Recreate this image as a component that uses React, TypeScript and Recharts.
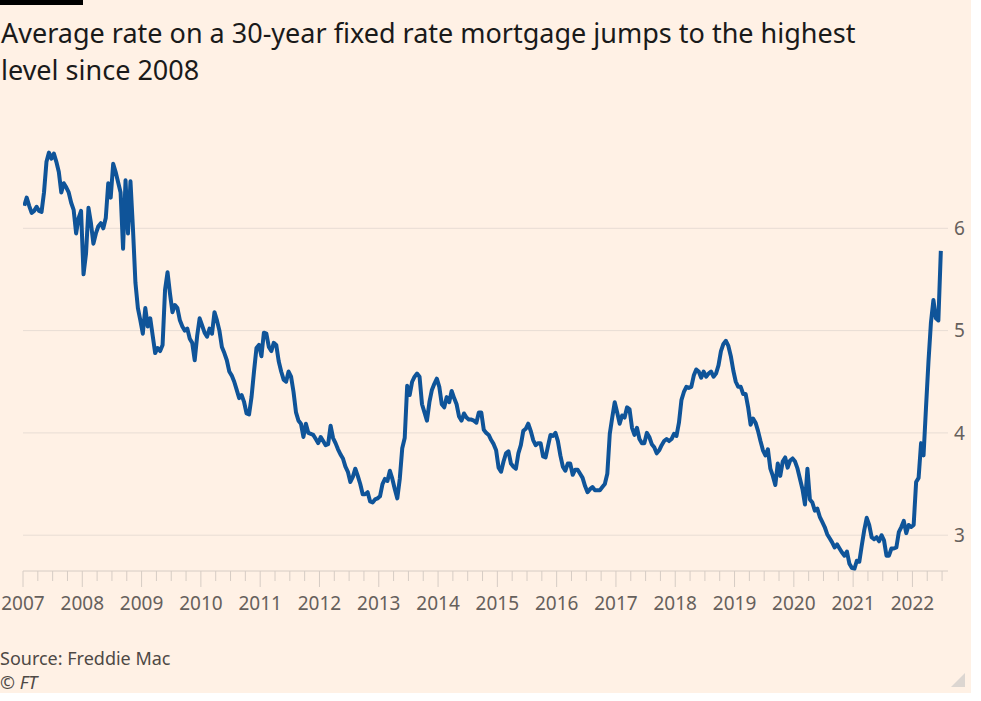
import React from "react";
import { LineChart, Line, XAxis, YAxis, ReferenceLine } from "recharts";

// Semi-monthly average 30-year fixed mortgage rate (%)
const rate2007 = [6.22, 6.30, 6.22, 6.15, 6.17, 6.21, 6.17, 6.16, 6.35, 6.65, 6.74, 6.68, 6.73, 6.65, 6.55, 6.35, 6.44, 6.40, 6.35, 6.25, 6.18, 5.95, 6.10, 6.17];
const rate2008 = [5.55, 5.75, 6.20, 6.05, 5.85, 5.95, 6.02, 6.05, 6.00, 6.10, 6.44, 6.30, 6.63, 6.55, 6.45, 6.35, 5.80, 6.47, 5.95, 6.46, 6.00, 5.47, 5.22, 5.10];
const rate2009 = [4.97, 5.22, 5.04, 5.12, 4.95, 4.78, 4.83, 4.80, 4.86, 5.40, 5.57, 5.36, 5.18, 5.25, 5.22, 5.10, 5.04, 5.00, 5.02, 4.92, 4.88, 4.71, 4.95, 5.12];
const rate2010 = [5.05, 4.98, 4.94, 5.02, 4.97, 5.18, 5.10, 5.00, 4.84, 4.78, 4.71, 4.60, 4.56, 4.50, 4.42, 4.34, 4.37, 4.30, 4.19, 4.18, 4.35, 4.60, 4.83, 4.86];
const rate2011 = [4.75, 4.98, 4.97, 4.84, 4.80, 4.88, 4.86, 4.70, 4.60, 4.52, 4.50, 4.60, 4.55, 4.40, 4.20, 4.12, 4.09, 3.96, 4.09, 4.00, 3.99, 3.98, 3.94, 3.90];
const rate2012 = [3.96, 3.92, 3.88, 3.89, 4.07, 3.95, 3.90, 3.84, 3.79, 3.75, 3.67, 3.62, 3.52, 3.57, 3.65, 3.58, 3.50, 3.40, 3.40, 3.42, 3.33, 3.32, 3.35, 3.36];
const rate2013 = [3.38, 3.50, 3.55, 3.53, 3.63, 3.55, 3.45, 3.36, 3.55, 3.85, 3.95, 4.46, 4.37, 4.50, 4.55, 4.58, 4.55, 4.28, 4.20, 4.12, 4.30, 4.42, 4.48, 4.53];
const rate2014 = [4.45, 4.28, 4.25, 4.35, 4.30, 4.41, 4.34, 4.28, 4.16, 4.12, 4.19, 4.15, 4.13, 4.13, 4.12, 4.10, 4.20, 4.20, 4.03, 4.00, 3.98, 3.93, 3.89, 3.83];
const rate2015 = [3.66, 3.62, 3.72, 3.80, 3.82, 3.70, 3.67, 3.65, 3.80, 3.88, 4.02, 4.04, 4.09, 4.02, 3.93, 3.88, 3.90, 3.90, 3.77, 3.76, 3.87, 3.98, 3.97, 4.00];
const rate2016 = [3.92, 3.78, 3.67, 3.63, 3.70, 3.70, 3.59, 3.64, 3.64, 3.60, 3.56, 3.48, 3.42, 3.45, 3.47, 3.44, 3.44, 3.44, 3.47, 3.50, 3.60, 3.99, 4.15, 4.30];
const rate2017 = [4.20, 4.09, 4.17, 4.15, 4.25, 4.23, 4.05, 3.98, 4.05, 3.94, 3.90, 3.90, 4.00, 3.96, 3.89, 3.86, 3.80, 3.83, 3.88, 3.92, 3.94, 3.92, 3.94, 3.99];
const rate2018 = [3.97, 4.10, 4.32, 4.40, 4.45, 4.44, 4.45, 4.56, 4.62, 4.60, 4.54, 4.60, 4.55, 4.58, 4.60, 4.55, 4.58, 4.66, 4.80, 4.87, 4.90, 4.85, 4.75, 4.61];
const rate2019 = [4.50, 4.45, 4.45, 4.38, 4.38, 4.25, 4.08, 4.14, 4.10, 4.02, 3.92, 3.83, 3.78, 3.84, 3.65, 3.58, 3.49, 3.70, 3.58, 3.72, 3.76, 3.66, 3.73, 3.75];
const rate2020 = [3.72, 3.65, 3.55, 3.45, 3.30, 3.65, 3.35, 3.32, 3.24, 3.26, 3.18, 3.13, 3.08, 3.01, 2.97, 2.93, 2.88, 2.91, 2.87, 2.83, 2.80, 2.84, 2.72, 2.68];
const rate2021 = [2.67, 2.75, 2.74, 2.90, 3.05, 3.17, 3.10, 2.98, 2.96, 2.98, 2.94, 3.00, 2.95, 2.80, 2.80, 2.87, 2.87, 2.88, 3.03, 3.08, 3.14, 3.02, 3.10, 3.08];
const rate2022 = [3.10, 3.52, 3.56, 3.90, 3.78, 4.25, 4.70, 5.08, 5.30, 5.12, 5.10, 5.78];

const years = [2007, 2008, 2009, 2010, 2011, 2012, 2013, 2014, 2015, 2016, 2017, 2018, 2019, 2020, 2021, 2022];
const rateByYear = [rate2007, rate2008, rate2009, rate2010, rate2011, rate2012, rate2013, rate2014, rate2015, rate2016, rate2017, rate2018, rate2019, rate2020, rate2021, rate2022];
const yTicks = [3, 4, 5, 6];
const titleLines = ["Average rate on a 30-year fixed rate mortgage jumps to the highest", "level since 2008"];
const source = "Source: Freddie Mac";

const data = years.flatMap((y, yi) =>
  rateByYear[yi].map((v, i) => ({ t: y + (i + 0.5) / 24, rate: v }))
);

const xTicks: number[] = [];
for (let q = 0; q <= 62; q++) xTicks.push(2007 + q / 4);

const FONT = "'Noto Sans', sans-serif";
const GREY = "#66605C";

const XTick = (props: any) => {
  const { x, y, payload } = props;
  const v = payload.value;
  const major = Math.abs(v - Math.round(v)) < 1e-6;
  return (
    <g>
      <line x1={x} x2={x} y1={y} y2={y + (major ? 16 : 10)} stroke="#D6CCC4" strokeWidth={1} />
      {major && (
        <text x={x} y={y + 39} textAnchor="middle" fill={GREY} fontSize={19} fontFamily={FONT}>
          {Math.round(v)}
        </text>
      )}
    </g>
  );
};

export default function App() {
  return (
    <div style={{ position: "absolute", left: 0, top: 0, width: 981, height: 701, background: "#ffffff" }}>
      <div style={{ position: "absolute", left: 0, top: 0, width: 971, height: 693, background: "#FFF1E5" }} />
      <div style={{ position: "absolute", left: 0, top: 0, width: 83, height: 5, background: "#000" }} />
      <div
        style={{
          position: "absolute",
          left: 1,
          top: 14,
          width: 960,
          fontFamily: FONT,
          fontSize: 27,
          lineHeight: "37px",
          color: "#1a1a1a",
          whiteSpace: "nowrap",
        }}
      >
        {titleLines.map((l, i) => (
          <div key={i}>{l}</div>
        ))}
      </div>
      <div style={{ position: "absolute", left: 0, top: 0 }}>
        <LineChart width={981} height={701} data={data} margin={{ top: 126, right: 0, bottom: 90, left: 23 }}>
          <XAxis
            dataKey="t"
            type="number"
            domain={[2007, 2022.6]}
            ticks={xTicks}
            interval={0}
            tick={<XTick />}
            tickSize={0}
            tickMargin={0}
            tickLine={false}
            axisLine={{ stroke: "#D6CCC4" }}
            height={40}
            allowDataOverflow
          />
          <YAxis
            orientation="right"
            domain={[2.65, 7]}
            ticks={yTicks}
            width={33}
            axisLine={false}
            tickLine={false}
            tickMargin={0}
            tick={{ fill: GREY, fontSize: 19, fontFamily: FONT }}
            allowDataOverflow
          />
          {yTicks.map((v) => (
            <ReferenceLine key={v} y={v} stroke="#E8DDD4" strokeWidth={1} />
          ))}
          <Line
            type="linear"
            dataKey="rate"
            stroke="#0F5499"
            strokeWidth={4}
            dot={false}
            isAnimationActive={false}
            strokeLinejoin="round"
          />
        </LineChart>
      </div>
      <div style={{ position: "absolute", left: 0, top: 646, fontFamily: FONT, fontSize: 18, color: "#4E4945" }}>
        {source}
      </div>
      <div style={{ position: "absolute", left: 0, top: 670, fontFamily: FONT, fontSize: 18, fontStyle: "italic", color: "#4E4945" }}>
        © FT
      </div>
      <svg style={{ position: "absolute", left: 0, top: 0 }} width={981} height={701} pointerEvents="none">
        <polygon points="951,687 965,673 965,687" fill="#DCD6D1" />
      </svg>
    </div>
  );
}
